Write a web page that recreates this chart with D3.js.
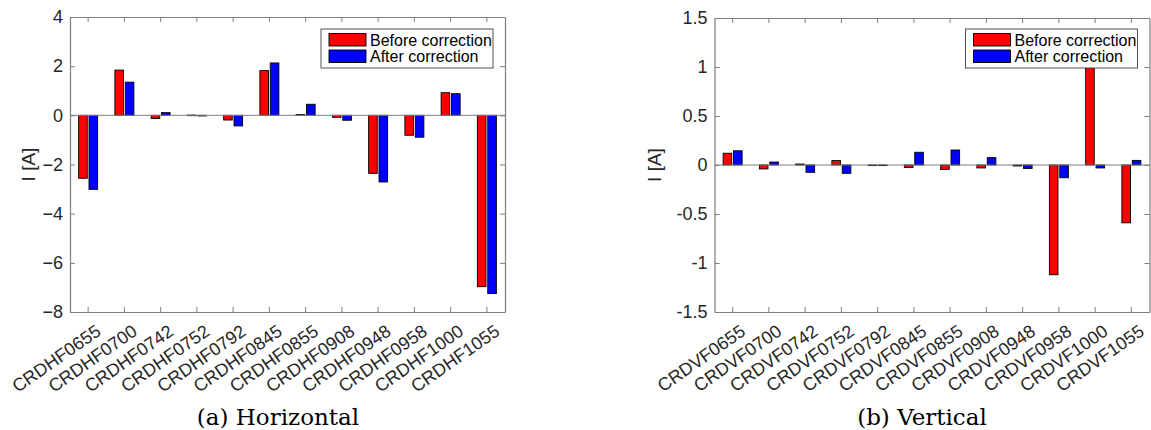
<!DOCTYPE html>
<html>
<head>
<meta charset="utf-8">
<script src="https://cdn.jsdelivr.net/npm/d3@7"></script>
<style>
  body { margin: 0; background: #fff; }
  svg { display: block; }
</style>
</head>
<body>
<svg id="chart" width="1151" height="430"></svg>
<script>
// ---- Data ----
const hCategories = ["CRDHF0655","CRDHF0700","CRDHF0742","CRDHF0752","CRDHF0792","CRDHF0845","CRDHF0855","CRDHF0908","CRDHF0948","CRDHF0958","CRDHF1000","CRDHF1055"];
const vCategories = ["CRDVF0655","CRDVF0700","CRDVF0742","CRDVF0752","CRDVF0792","CRDVF0845","CRDVF0855","CRDVF0908","CRDVF0948","CRDVF0958","CRDVF1000","CRDVF1055"];
const seriesNames = ["Before correction", "After correction"];
const hBefore = [-2.56, 1.84, -0.13, 0.01, -0.19, 1.82, 0.03, -0.08, -2.36, -0.81, 0.92, -6.97];
const hAfter  = [-3.01, 1.35, 0.11, -0.01, -0.43, 2.13, 0.45, -0.20, -2.71, -0.89, 0.88, -7.25];
const vBefore = [0.12, -0.04, 0.01, 0.045, -0.005, -0.025, -0.045, -0.03, -0.01, -1.12, 1.02, -0.59];
const vAfter  = [0.145, 0.03, -0.075, -0.085, -0.005, 0.13, 0.153, 0.075, -0.035, -0.13, -0.03, 0.047];
const hTicks = [-8, -6, -4, -2, 0, 2, 4];
const vTicks = [-1.5, -1, -0.5, 0, 0.5, 1, 1.5];
const yLabel = "I [A]";
const captionA = "(a) Horizontal";
const captionB = "(b) Vertical";
const colors = ["#ff0000", "#0000ff"];

const svg = d3.select("#chart");
const axisColor = "#7f7f7f";
const textColor = "#262626";
const sans = "'Liberation Sans', Arial, Helvetica, sans-serif";

function panel(opts) {
  const { left, right, top, bottom, cats, before, after, domain, ticks, tickFmt, caption, capX, ylabX } = opts;
  const g = svg.append("g");
  const x = d3.scaleBand().domain(cats).range([left, right]).padding(0);
  const y = d3.scaleLinear().domain(domain).range([bottom, top]);
  const inner = d3.scaleBand().domain([0, 1]).range([-9.5, 9.5]).paddingInner(0.17);

  const rows = cats.map((c, i) => ({ c, vals: [before[i], after[i]] }));
  const grp = g.selectAll("g.grp").data(rows).join("g")
    .attr("transform", d => `translate(${x(d.c) + x.bandwidth() / 2},0)`);
  grp.selectAll("rect").data(d => d.vals.map((v, k) => ({ v, k }))).join("rect")
    .attr("x", d => inner(d.k))
    .attr("width", inner.bandwidth())
    .attr("y", d => Math.min(y(d.v), y(0)))
    .attr("height", d => Math.max(Math.abs(y(d.v) - y(0)), 0.6))
    .attr("fill", d => colors[d.k])
    .attr("stroke", "#000")
    .attr("stroke-width", 0.9);

  // zero baseline
  g.append("line").attr("x1", left).attr("x2", right).attr("y1", y(0)).attr("y2", y(0))
    .attr("stroke", axisColor).attr("stroke-width", 1);

  // axes
  const tl = 5;
  const yAxisL = d3.axisLeft(y).tickValues(ticks).tickFormat(tickFmt).tickSizeInner(-tl).tickSizeOuter(0).tickPadding(7);
  const yAxisR = d3.axisRight(y).tickValues(ticks).tickFormat("").tickSizeInner(-tl).tickSizeOuter(0);
  const xAxisB = d3.axisBottom(x).tickSizeInner(-tl).tickSizeOuter(0).tickFormat("");
  const xAxisT = d3.axisTop(x).tickSizeInner(-tl).tickSizeOuter(0).tickFormat("");

  const gl = g.append("g").attr("transform", `translate(${left},0)`).call(yAxisL);
  const gr = g.append("g").attr("transform", `translate(${right},0)`).call(yAxisR);
  const gb = g.append("g").attr("transform", `translate(0,${bottom})`).call(xAxisB);
  const gt = g.append("g").attr("transform", `translate(0,${top})`).call(xAxisT);
  [gl, gr, gb, gt].forEach(a => {
    a.selectAll(".domain").attr("stroke", axisColor).attr("stroke-width", 1.2);
    a.selectAll(".tick line").attr("stroke", axisColor).attr("stroke-width", 1);
  });
  gl.selectAll(".tick text").attr("fill", textColor).style("font-family", sans).style("font-size", "18px");

  // rotated category labels
  g.append("g").selectAll("text").data(cats).join("text")
    .attr("transform", d => `translate(${x(d) + x.bandwidth() / 2 + 14},${bottom + 22}) rotate(-35)`)
    .attr("text-anchor", "end")
    .attr("fill", textColor)
    .style("font-family", sans).style("font-size", "18px")
    .text(d => d);

  // y label
  g.append("text")
    .attr("transform", `translate(${ylabX},${(top + bottom) / 2}) rotate(-90)`)
    .attr("text-anchor", "middle")
    .attr("fill", textColor)
    .style("font-family", sans).style("font-size", "19px")
    .text(yLabel);

  // legend
  const lx = right - 184, ly = 29;
  const lg = g.append("g").attr("transform", `translate(${lx},${ly})`);
  lg.append("rect").attr("width", 172).attr("height", 39).attr("fill", "#fff")
    .attr("stroke", "#262626").attr("stroke-width", 0.8);
  seriesNames.forEach((s, k) => {
    lg.append("rect").attr("x", 8).attr("y", 4.5 + k * 16.5).attr("width", 37).attr("height", 12.5)
      .attr("fill", colors[k]).attr("stroke", "#000").attr("stroke-width", 0.9);
    lg.append("text").attr("x", 49).attr("y", 16.5 + k * 16.5)
      .attr("fill", "#000").style("font-family", sans).style("font-size", "16px").text(s);
  });

  // caption
  svg.append("text").attr("x", capX).attr("y", 425).attr("text-anchor", "middle")
    .attr("fill", "#000").style("font-family", "'DejaVu Serif', serif").style("font-size", "23px")
    .text(caption);
}

panel({ left: 70, right: 505, top: 17, bottom: 312, cats: hCategories, before: hBefore, after: hAfter,
  domain: [-8, 4], ticks: hTicks, tickFmt: d3.format("d"), caption: captionA, capX: 278, ylabX: 35 });
panel({ left: 714.5, right: 1149.5, top: 18, bottom: 312, cats: vCategories, before: vBefore, after: vAfter,
  domain: [-1.5, 1.5], ticks: vTicks, tickFmt: d => String(d), caption: captionB, capX: 922, ylabX: 661 });
</script>
</body>
</html>
